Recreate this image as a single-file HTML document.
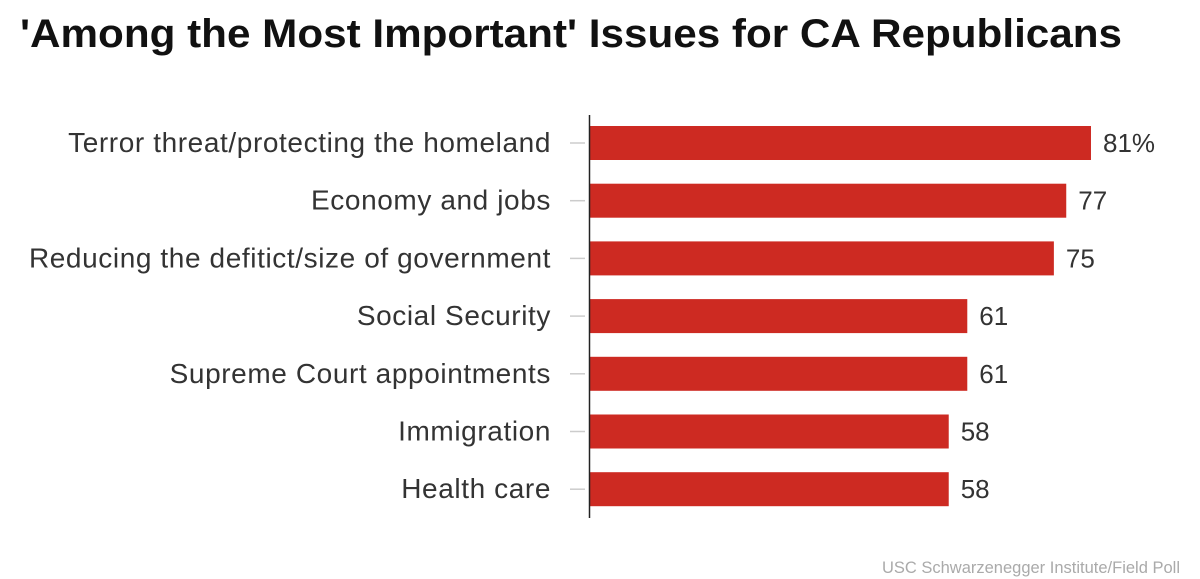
<!DOCTYPE html>
<html><head><meta charset="utf-8"><style>
body{margin:0;background:#fff;width:1200px;height:579px;overflow:hidden}
svg{display:block;font-family:"Liberation Sans",sans-serif}
</style></head><body>
<svg id="chart" width="1200" height="579">
<text x="20" y="47" font-size="40" font-weight="bold" fill="#111" textLength="1102" lengthAdjust="spacingAndGlyphs">'Among the Most Important' Issues for CA Republicans</text>
<g id="bars"></g>
<line x1="589.5" y1="115" x2="589.5" y2="518" stroke="#222" stroke-width="1.5"/>
<text x="1180" y="573" font-size="16.5" fill="#aaa" text-anchor="end">USC Schwarzenegger Institute/Field Poll</text>
</svg>
<script>
const categories=["Terror threat/protecting the homeland","Economy and jobs","Reducing the defitict/size of government","Social Security","Supreme Court appointments","Immigration","Health care"];
const values=[81,77,75,61,61,58,58];
const valueLabels=["81%","77","75","61","61","58","58"];
const x0=590,pxPer=6.185,top0=143,step=57.7,bh=34;
const xs=v=>x0+v*pxPer, ys=i=>top0+i*step;
const g=document.getElementById('bars');const NS="http://www.w3.org/2000/svg";
categories.forEach((c,i)=>{
 const y=ys(i);
 const r=document.createElementNS(NS,'rect');
 r.setAttribute('x',x0);r.setAttribute('y',y-bh/2);r.setAttribute('width',xs(values[i])-x0);r.setAttribute('height',bh);r.setAttribute('fill','#cd2a22');
 
 
 g.appendChild(r);
 const t=document.createElementNS(NS,'line');
 t.setAttribute('x1',570);t.setAttribute('x2',585);t.setAttribute('y1',y);t.setAttribute('y2',y);t.setAttribute('stroke','#ccc');t.setAttribute('stroke-width','1.5');
 
 
 g.appendChild(t);
 const l=document.createElementNS(NS,'text');
 l.setAttribute('x',551);l.setAttribute('y',y+9);l.setAttribute('text-anchor','end');l.setAttribute('font-size','28');l.setAttribute('letter-spacing','0.6');l.setAttribute('fill','#333');
 l.textContent=c;
 
 
 g.appendChild(l);
 const v=document.createElementNS(NS,'text');
 v.setAttribute('x',xs(values[i])+12);v.setAttribute('y',y+9);v.setAttribute('font-size','26');v.setAttribute('fill','#333');
 v.textContent=valueLabels[i];
 
 
 g.appendChild(v);
});
</script>
</body></html>
